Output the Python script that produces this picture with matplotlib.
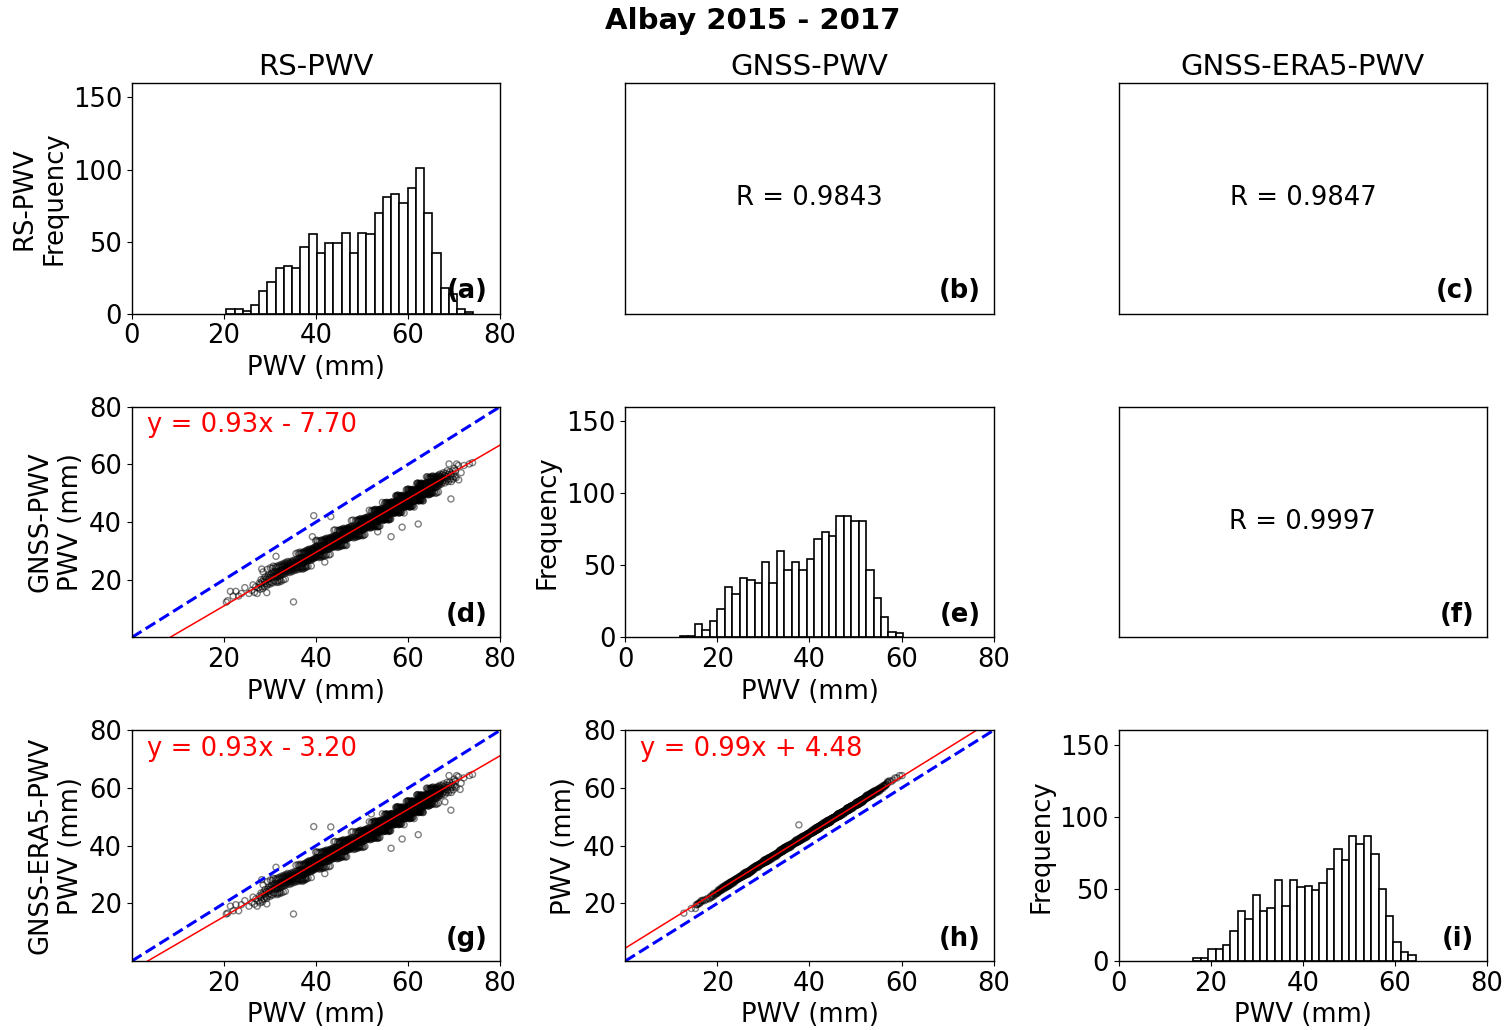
import numpy as np
import matplotlib.pyplot as plt

plt.rcParams['font.family'] = 'DejaVu Sans'

# Histogram counts (30 bins each, between min and max)
rs_counts = [3, 3, 2, 6, 16, 22, 32, 33, 32, 46, 55, 42, 49, 49, 56,
             42, 56, 55, 70, 81, 83, 77, 87, 101, 70, 42, 18, 14, 3, 1]
rs_range = (20.5, 74.2)

gnss_counts = [1, 1, 9, 5, 11, 20, 35, 30, 41, 40, 38, 52, 38, 60, 47,
               52, 47, 54, 68, 73, 70, 84, 84, 81, 81, 47, 27, 14, 4, 3]
gnss_range = (11.9, 60.4)

era5_counts = [2, 2, 8, 8, 11, 21, 35, 29, 46, 35, 37, 56, 38, 56, 51,
               52, 49, 54, 64, 78, 70, 87, 81, 87, 74, 50, 31, 13, 6, 4]
era5_range = (16.2, 64.5)

# Fitted lines and correlations shown in the panels
fit_d = (0.93, -7.70)
fit_g = (0.93, -3.20)
fit_h = (0.99, 4.48)
r_b = 0.9843
r_c = 0.9847
r_f = 0.9997

# Points lying off the main band (read by eye)
out_d_x = [35.1, 39.5, 43.2, 31.3, 28.2, 56.3, 62.2, 69.3, 58.7, 74.0, 20.5, 29.3, 41.9, 53.4, 71.0, 39.2]
out_d_y = [12.3, 42.2, 41.9, 28.1, 23.7, 34.9, 39.3, 48.0, 38.2, 60.6, 12.2, 15.5, 26.1, 36.6, 54.6, 34.9]
out_g_x = [35.1, 39.5, 43.2, 31.3, 28.2, 56.3, 62.2, 69.3, 58.7, 74.0, 20.5, 29.3, 41.9, 52.0, 71.3, 68.0]
out_g_y = [16.3, 46.6, 46.5, 32.5, 28.2, 39.1, 43.8, 52.3, 42.3, 64.7, 16.3, 19.8, 30.3, 51.0, 59.5, 55.2]
out_h_x = [37.7]
out_h_y = [47.2]


def expand(counts, lo, hi):
    # turn bin counts back into a sample spread across each bin
    edges = np.linspace(lo, hi, len(counts) + 1)
    vals = []
    for k, c in enumerate(counts):
        w = edges[k + 1] - edges[k]
        vals.append(edges[k] + (np.arange(c) + 0.5) / c * w)
    return edges, np.concatenate(vals)


def pair(xs, ys, spread):
    # match the two samples by rank, with a fixed low-discrepancy shuffle
    xs = np.sort(xs)
    ys = np.sort(ys)
    n, m = len(xs), len(ys)
    i = np.arange(n)
    base = ys[np.round(i * (m - 1) / (n - 1)).astype(int)]
    s = (i * 0.6180339887) % 1 + (i * 0.7548776662) % 1 - 1
    idx = np.clip(np.searchsorted(ys, base + spread * s), 0, m - 1)
    return xs, ys[idx]


rs_edges, rs = expand(rs_counts, *rs_range)
gnss_edges, gnss = expand(gnss_counts, *gnss_range)
era5_edges, era5 = expand(era5_counts, *era5_range)

fs = 18.6
fig, axes = plt.subplots(3, 3, figsize=(15.06, 10.3), dpi=100)
fig.subplots_adjust(left=0.0876, right=0.9874, top=0.9194, bottom=0.067,
                    wspace=0.34, hspace=0.403)
fig.suptitle('Albay 2015 - 2017', fontsize=21, fontweight='bold', y=0.993, va='top')

labels = [['(a)', '(b)', '(c)'], ['(d)', '(e)', '(f)'], ['(g)', '(h)', '(i)']]


def hist_panel(ax, sample, edges, ylabel):
    ax.hist(sample, bins=edges, color='white', edgecolor='black', linewidth=1.2)
    ax.set_xlim(0, 80)
    ax.set_ylim(0, 160)
    ax.set_xticks([0, 20, 40, 60, 80])
    ax.set_yticks([0, 50, 100, 150])
    ax.set_xlabel('PWV (mm)', fontsize=fs)
    ax.set_ylabel(ylabel, fontsize=fs)


def r_panel(ax, r):
    ax.set_xticks([])
    ax.set_yticks([])
    ax.text(0.5, 0.5, f'R = {r:.4f}', transform=ax.transAxes,
            ha='center', va='center', fontsize=fs)


def scatter_panel(ax, x, y, ox, oy, fit, ylabel):
    ax.scatter(np.concatenate([x, ox]), np.concatenate([y, oy]), s=19,
               facecolors='none', edgecolors='black', alpha=0.5, linewidths=1)
    line_x = np.array([0, 80])
    ax.plot(line_x, fit[0] * line_x + fit[1], color='red', lw=1.1)
    ax.plot(line_x, line_x, 'b--', lw=2.2)
    sign = '-' if fit[1] < 0 else '+'
    ax.text(0.04, 0.975, f'y = {fit[0]:.2f}x {sign} {abs(fit[1]):.2f}',
            transform=ax.transAxes, ha='left', va='top', color='red', fontsize=fs)
    ax.set_xlim(0, 80)
    ax.set_ylim(0, 80)
    ax.set_xticks([20, 40, 60, 80])
    ax.set_yticks([20, 40, 60, 80])
    ax.set_xlabel('PWV (mm)', fontsize=fs)
    ax.set_ylabel(ylabel, fontsize=fs)


hist_panel(axes[0, 0], rs, rs_edges, 'RS-PWV\nFrequency')
r_panel(axes[0, 1], r_b)
r_panel(axes[0, 2], r_c)

dx, dy = pair(rs, gnss, 4.2)
scatter_panel(axes[1, 0], dx, dy, out_d_x, out_d_y, fit_d, 'GNSS-PWV\nPWV (mm)')
hist_panel(axes[1, 1], gnss, gnss_edges, 'Frequency')
r_panel(axes[1, 2], r_f)

gx, gy = pair(rs, era5, 4.2)
scatter_panel(axes[2, 0], gx, gy, out_g_x, out_g_y, fit_g, 'GNSS-ERA5-PWV\nPWV (mm)')
hx, hy = pair(gnss, era5, 0.7)
scatter_panel(axes[2, 1], hx, hy, out_h_x, out_h_y, fit_h, 'PWV (mm)')
hist_panel(axes[2, 2], era5, era5_edges, 'Frequency')

for c, t in enumerate(['RS-PWV', 'GNSS-PWV', 'GNSS-ERA5-PWV']):
    axes[0, c].set_title(t, fontsize=21)

for r in range(3):
    for c in range(3):
        ax = axes[r, c]
        ax.tick_params(labelsize=fs)
        for sp in ax.spines.values():
            sp.set_linewidth(1.0)
        ax.text(0.965, 0.04, labels[r][c], transform=ax.transAxes,
                ha='right', va='bottom', fontsize=fs, fontweight='bold')

fig.savefig('out.png', dpi=100)
